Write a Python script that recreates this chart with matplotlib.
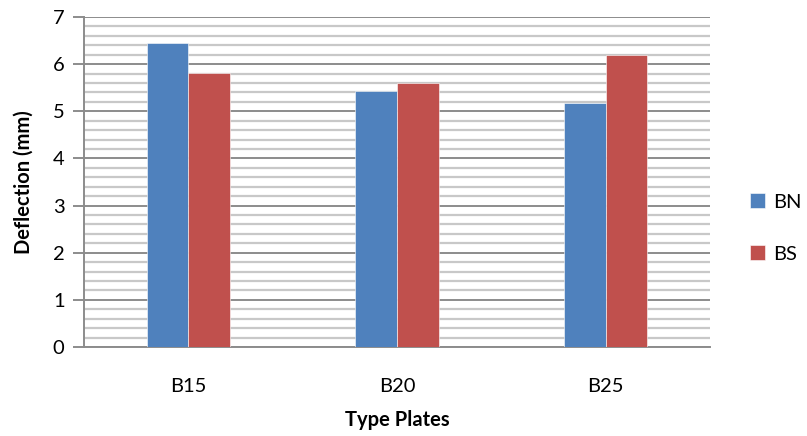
import matplotlib.pyplot as plt
import numpy as np
from matplotlib.ticker import MultipleLocator

plates = ['B15', 'B20', 'B25']
bn = [6.45, 5.44, 5.18]
bs = [5.81, 5.59, 6.2]

plt.rcParams['font.family'] = ['Lato', 'DejaVu Sans']

fig = plt.figure(figsize=(8.07, 4.36), dpi=100)
ax = fig.add_axes([84 / 807, 1 - 347 / 436, (710 - 84) / 807, (347 - 17) / 436])

x = np.arange(len(plates))
w = 0.2
b1 = ax.bar(x - w / 2, bn, w, color='#4F81BD', edgecolor='white', linewidth=0.4, label='BN', zorder=3)
b2 = ax.bar(x + w / 2, bs, w, color='#C0504D', edgecolor='white', linewidth=0.4, label='BS', zorder=3)

ax.set_xlim(-0.5, 2.5)
ax.set_ylim(0, 7)
ax.yaxis.set_major_locator(MultipleLocator(1))
ax.yaxis.set_minor_locator(MultipleLocator(0.2))
ax.grid(which='minor', axis='y', color='#C8C8C8', linewidth=1.6, zorder=0)
ax.grid(which='major', axis='y', color='#8C8C8C', linewidth=1.4, zorder=1)

for s in ['top', 'right']:
    ax.spines[s].set_visible(False)
ax.spines['left'].set_color('#8C8C8C')
ax.spines['left'].set_linewidth(1.4)
ax.spines['bottom'].set_color('#8C8C8C')
ax.spines['bottom'].set_linewidth(1.4)

ax.set_xticks(x)
ax.set_xticklabels(plates)
ax.tick_params(axis='x', length=0, labelsize=14.5, pad=22)
ax.tick_params(axis='y', which='major', length=8, color='#8C8C8C', width=1.4, labelsize=14.5, pad=6)
ax.tick_params(axis='y', which='minor', length=0)

ax.set_xlabel('Type Plates', fontsize=14.5, fontweight='bold', labelpad=11)
ax.set_ylabel('Deflection (mm)', fontsize=14.5, fontweight='bold', labelpad=14)

fig.legend(handles=[b1, b2], labels=['BN', 'BS'], loc='center left',
           bbox_to_anchor=(750 / 807, 1 - 228 / 436), frameon=False, fontsize=14.5,
           borderpad=0, borderaxespad=0,
           handlelength=0.75, handleheight=0.75, labelspacing=1.7, handletextpad=0.4)

fig.savefig('out.png', dpi=100)
